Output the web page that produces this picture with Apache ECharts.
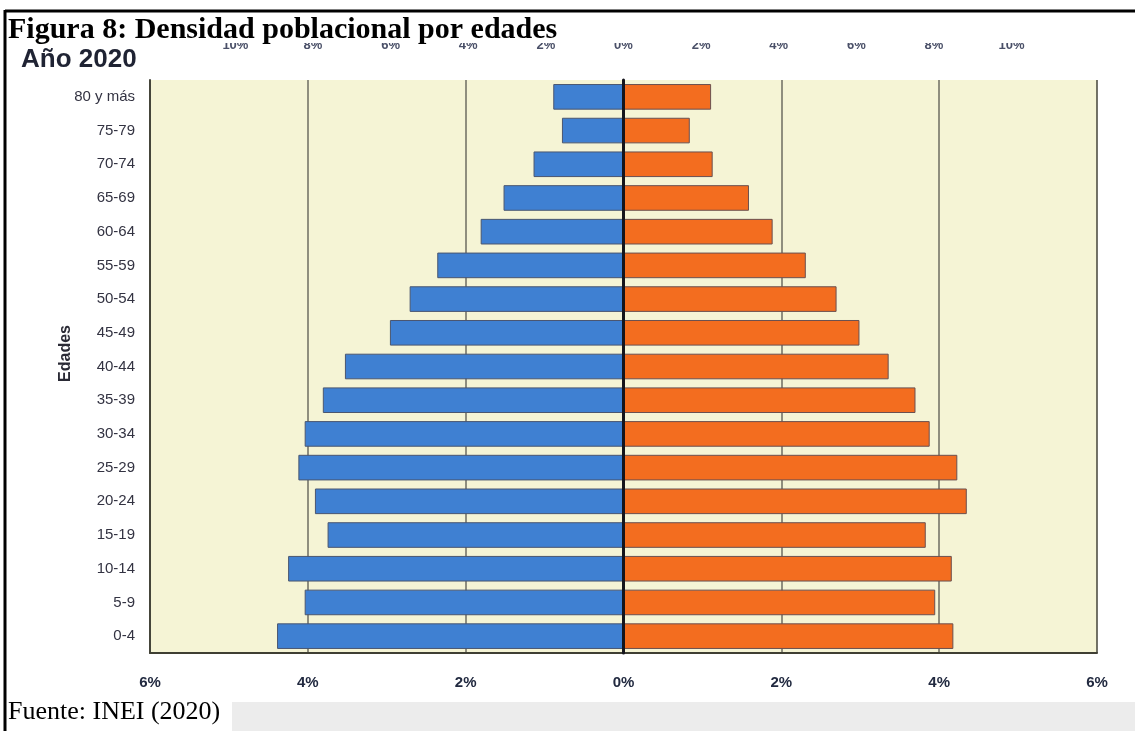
<!DOCTYPE html>
<html>
<head>
<meta charset="utf-8">
<script src="https://cdn.jsdelivr.net/npm/echarts@6/dist/echarts.min.js"></script>
<style>
  html, body { margin: 0; padding: 0; background: #ffffff; }
  #chart { width: 1135px; height: 731px; }
</style>
</head>
<body>
<div id="chart"></div>
<script>
// Age groups, bottom to top
const categories = ['0-4', '5-9', '10-14', '15-19', '20-24', '25-29', '30-34', '35-39',
  '40-44', '45-49', '50-54', '55-59', '60-64', '65-69', '70-74', '75-79', '80 y más'];
// Left (blue) side, percent of population
const leftValues = [4.39, 4.04, 4.25, 3.75, 3.91, 4.12, 4.04, 3.81,
  3.53, 2.96, 2.71, 2.36, 1.81, 1.52, 1.14, 0.78, 0.89];
// Right (orange) side, percent of population
const rightValues = [4.18, 3.95, 4.16, 3.83, 4.35, 4.23, 3.88, 3.70,
  3.36, 2.99, 2.70, 2.31, 1.89, 1.59, 1.13, 0.84, 1.11];
// Bottom axis ticks
const bottomTicks = [-6, -4, -2, 0, 2, 4, 6];
// Partially hidden top axis ticks
const topTicks = [-10, -8, -6, -4, -2, 0, 2, 4, 6, 8, 10];

const titleText = 'Figura 8: Densidad poblacional por edades';
const subtitleText = 'Año 2020';
const sourceText = 'Fuente: INEI (2020)';
const yName = 'Edades';

const chart = echarts.init(document.getElementById('chart'), null, { renderer: 'canvas' });
const pct = v => Math.abs(v) + '%';

const option = {
  animation: false,
  backgroundColor: '#ffffff',
  grid: {
    left: 150, top: 80, width: 947, height: 573,
    show: true, backgroundColor: '#f5f4d5', borderWidth: 0
  },
  xAxis: [
    {
      type: 'value', position: 'bottom',
      min: bottomTicks[0], max: bottomTicks[bottomTicks.length - 1], interval: 2,
      axisLine: { show: true, onZero: false, lineStyle: { color: '#3f3f33', width: 2 } },
      axisTick: { show: false },
      axisLabel: {
        formatter: pct, margin: 22,
        fontFamily: 'Liberation Sans', fontWeight: 'bold', fontSize: 15, color: '#222a40'
      },
      splitLine: {
        show: true,
        lineStyle: { color: ['#45453a', '#6d6d60', '#6d6d60', '#6d6d60', '#6d6d60', '#6d6d60', '#45453a'], width: 1.5 }
      }
    },
    {
      type: 'value', position: 'top',
      min: -12.2, max: 12.2,
      axisLine: { show: false },
      axisTick: { show: false },
      splitLine: { show: false },
      axisLabel: {
        customValues: topTicks, formatter: pct, margin: 28,
        fontFamily: 'Liberation Sans', fontWeight: 'bold', fontSize: 13, color: '#4a5068'
      }
    }
  ],
  yAxis: [
    {
      type: 'category', data: categories, position: 'left',
      axisLine: { show: true, onZero: false, lineStyle: { color: '#45453a', width: 2 } },
      axisTick: { show: false },
      axisLabel: { margin: 15, fontFamily: 'Liberation Sans', fontSize: 15, color: '#333342' },
      name: yName, nameLocation: 'middle', nameRotate: 90, nameGap: 76, nameMoveOverlap: false,
      nameTextStyle: { fontFamily: 'Liberation Sans', fontWeight: 'bold', fontSize: 16, color: '#2a2a35', padding: [0, 0, 0, 26] }
    },
    {
      type: 'category', data: categories, position: 'left', z: 10,
      axisLine: { show: true, onZero: true, onZeroAxisIndex: 0, lineStyle: { color: '#15151c', width: 3 } },
      axisTick: { show: false },
      axisLabel: { show: false },
      splitLine: { show: false }
    }
  ],
  series: [
    {
      name: 'Izquierda', type: 'bar', xAxisIndex: 0, yAxisIndex: 0,
      data: leftValues.map(v => -v),
      barCategoryGap: '24%', barGap: '-100%',
      itemStyle: { color: '#3f80d2', borderColor: '#4a5670', borderWidth: 1 }
    },
    {
      name: 'Derecha', type: 'bar', xAxisIndex: 0, yAxisIndex: 0,
      data: rightValues,
      barCategoryGap: '24%', barGap: '-100%',
      itemStyle: { color: '#f36d1f', borderColor: '#6a5050', borderWidth: 1 }
    }
  ],
  graphic: [
    { type: 'rect', z: 100, shape: { x: 0, y: 12, width: 1135, height: 31 }, style: { fill: '#ffffff' } },
    { type: 'rect', z: 99, shape: { x: 232, y: 702, width: 903, height: 29 }, style: { fill: '#ececec' } },
    { type: 'line', z: 101, shape: { x1: 5, y1: 11, x2: 1135, y2: 11 }, style: { stroke: '#000000', lineWidth: 3 } },
    { type: 'line', z: 101, shape: { x1: 5, y1: 10, x2: 5, y2: 731 }, style: { stroke: '#000000', lineWidth: 3 } },
    {
      type: 'text', z: 102, left: 8, top: 15,
      style: { text: titleText, font: 'bold 30px "Liberation Serif"', fill: '#000000' }
    },
    {
      type: 'text', z: 102, left: 21, top: 47,
      style: { text: subtitleText, font: 'bold 26px "Liberation Sans"', fill: '#1f2333' }
    },
    {
      type: 'text', z: 102, left: 8, top: 699,
      style: { text: sourceText, font: '26px "Liberation Serif"', fill: '#000000' }
    }
  ]
};
chart.setOption(option);
</script>
</body>
</html>
